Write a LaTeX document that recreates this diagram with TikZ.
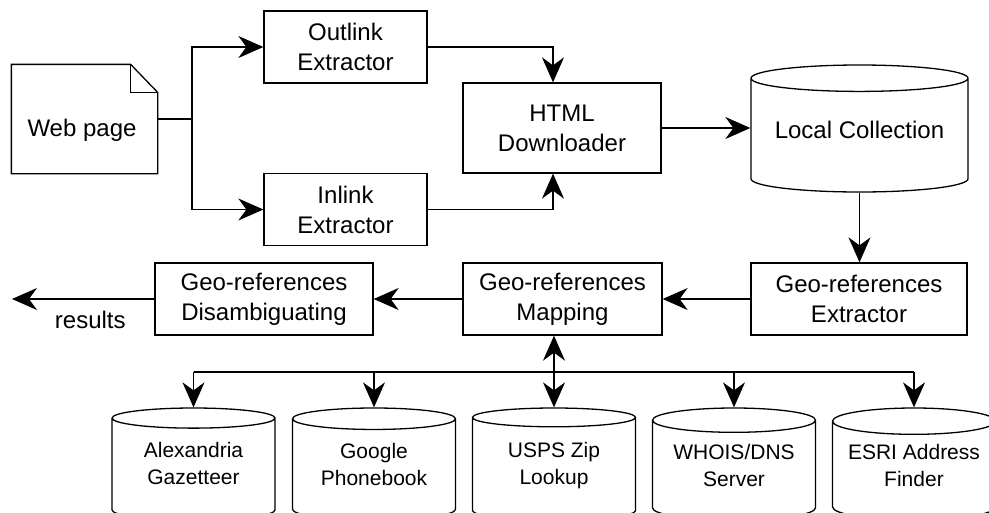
\documentclass[tikz,border=0pt]{standalone}
\usepackage{fontspec}
\setmainfont{Liberation Sans}
\usetikzlibrary{positioning,shapes.geometric,arrows.meta,calc}

\begin{document}
\begin{tikzpicture}[
    x=1pt, y=-1pt,
    line width=1.3pt,
    >={Stealth[length=25pt, width=22pt, inset=8pt]},
    every node/.style={font=\fontsize{24}{30}\selectfont, align=center},
    process/.style={draw, rectangle, minimum height=72pt, inner sep=2pt},
    store/.style={draw, cylinder, shape border rotate=90, aspect=0.15, anchor=shape center, text depth=15pt},
    source/.style={store, font=\fontsize{21}{27}\selectfont, minimum width=163pt, minimum height=112pt, aspect=0.19, text depth=14pt}
]
    \useasboundingbox (0,0) rectangle (989,512);

    % Web page with folded corner.
    \node (web) at (84.5,119) [minimum width=145pt, minimum height=108pt] {};
    \draw (web.south west) |- ($(web.north east)+(-27,0)$) coordinate (fold)
        -- ($(web.north east)+(0,28)$) |- cycle;
    \draw (fold) |- ($(web.north east)+(0,28)$);
    \node (webtext) at (82,130) {Web page};

    % Crawling stages.
    \node[process, minimum width=163pt] (outlink) at (345.5,47) {Outlink\\Extractor};
    \node[process, minimum width=163pt] (inlink) at (345.5,209.5) {Inlink\\Extractor};
    \node[process, minimum width=198pt, minimum height=90pt] (html) at (562,128) {HTML\\Downloader};
    \node[store, minimum width=217pt, minimum height=127pt] (local) at (859.5,128.5) {Local Collection};

    % Geo-referencing stages.
    \node[process, minimum width=216pt] (gext) at (859,299) {Geo-references\\Extractor};
    \node[process, minimum width=199pt] (gmap) at (562.5,299) {Geo-references\\Mapping};
    \node[process, minimum width=218pt] (gdis) at (264,299) {Geo-references\\Disambiguating};
    \coordinate (out) at (12,299);

    % Outside sources.
    \foreach \name/\xpos/\txt in {alex/193.5/{Alexandria\\Gazetteer}, google/374/{Google\\Phonebook},
        usps/554/{USPS Zip\\Lookup}, whois/734/{WHOIS/DNS\\Server}, esri/914/{ESRI Address\\Finder}}
        \node[source] (\name) at (\xpos,464) {\txt};

    \coordinate (split) at (192,119);
    \coordinate (bus) at (553,372);

    \draw (web.east) -- (split);
    \draw[->] (split) |- (outlink.west);
    \draw[->] (split) |- (inlink.west);
    \draw[->] (outlink.east) -| ([xshift=-9pt]html.north);
    \draw[->] (inlink.east) -| ([xshift=-9pt]html.south);
    \draw[->] (html.east) -- (html.east -| local.west);
    \draw[->] (local.south) -- (local.south |- gext.north);
    \draw[->] (gext) -- (gmap);
    \draw[->] (gmap) -- (gdis);
    \draw[->] (gdis) -- (out) node[pos=0.45, below=8pt] {results};

    \draw (bus -| alex.north) -- (bus -| esri.north);
    \foreach \name in {alex,google,whois,esri}
        \draw[->] (bus -| \name.north) -- (\name.north);
    \draw[<->] (gmap.south -| usps.north) -- (usps.north);
\end{tikzpicture}
\end{document}
